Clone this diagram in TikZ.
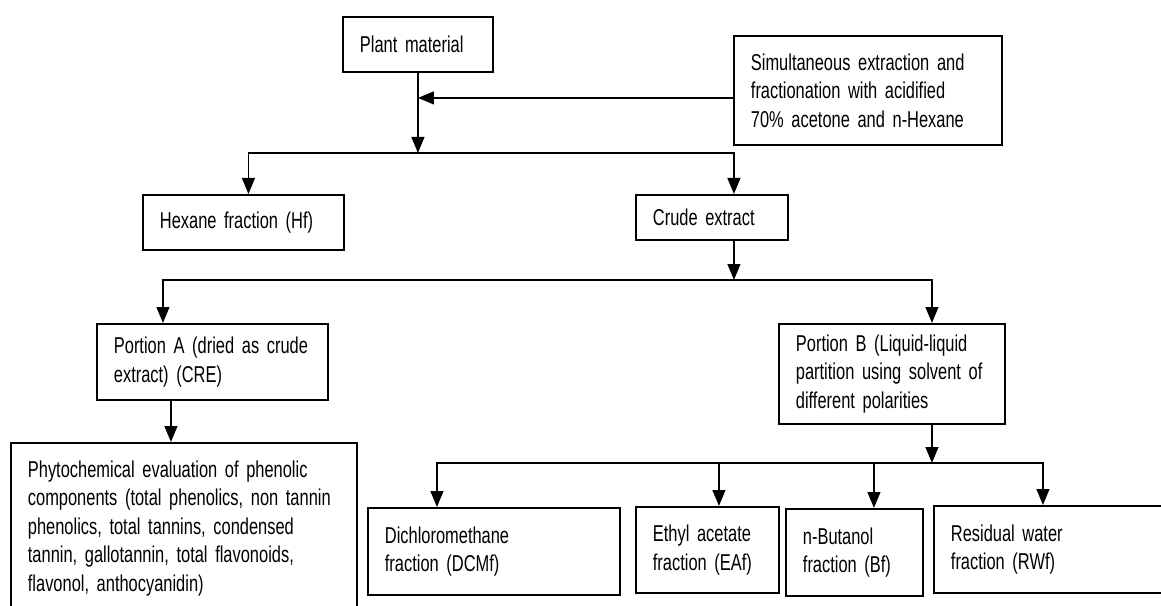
\documentclass[tikz,border=0pt]{standalone}
\usepackage{fontspec}
\setmainfont{Liberation Sans}[FakeStretch=0.717]
\usepackage{tikz}
\usetikzlibrary{arrows.meta, positioning, calc}

\begin{document}
\begin{tikzpicture}[
    x=0.025cm, y=-0.025cm,
    font=\fontsize{16.3pt}{20.2pt}\selectfont,
    box/.style={rectangle, draw=black, line width=1.3pt, anchor=north west,
      align=left, inner xsep=0.425cm, inner ysep=4pt},
    arrow/.style={-{Triangle[length=4mm, width=3.2mm]}, line width=1.3pt},
  ]
  \useasboundingbox (0,0) rectangle (1161,605);
  \clip (0,0) rectangle (1161,605);

  \node[box, text width=2.9cm,  minimum height=1.375cm] (plant)   at (342,16)  {Plant material};
  \node[box, text width=5.85cm, minimum height=2.725cm] (solvent) at (733,35)
    {Simultaneous extraction and\\fractionation with acidified\\70\% acetone and n-Hexane};

  \node[box, text width=4.175cm, minimum height=1.375cm] (hexane) at (142,194) {Hexane fraction (Hf)};
  \node[box, text width=2.95cm,  minimum height=1.125cm] (crude)  at (635,194) {Crude extract};

  \node[box, text width=4.925cm, minimum height=1.9cm] (porta) at (96,323)
    {Portion A (dried as crude\\extract) (CRE)};
  \node[box, text width=4.8cm, minimum height=2.5cm] (portb) at (778,323)
    {Portion B (Liquid-liquid\\partition using solvent of\\different polarities};

  \node[box, text width=7.8cm, inner ysep=12.8pt] (phyto) at (10,442)
    {Phytochemical evaluation of phenolic\\components (total phenolics, non tannin\\phenolics, total tannins, condensed\\tannin, gallotannin, total flavonoids,\\flavonol, anthocyanidin)\par\vspace*{1cm}};

  \node[box, text width=5.45cm,  minimum height=2.175cm] (dcm) at (367,507) {Dichloromethane\\fraction (DCMf)};
  \node[box, text width=2.725cm, minimum height=2.15cm]  (ea)  at (635,506) {Ethyl acetate\\fraction (EAf)};
  \node[box, text width=2.575cm, minimum height=2.175cm] (bu)  at (785,508) {n-Butanol\\fraction (Bf)};
  \node[box, text width=5.4cm,   minimum height=2.175cm] (rw)  at (933,505) {Residual water\\fraction (RWf)};

  \coordinate (split1) at (plant.south |- 0,153);
  \coordinate (ts) at ($(solvent.west)+(0,7.5)$);
  \draw[arrow] (ts) -- (ts -| plant.south);
  \draw[arrow] (plant.south) -- (split1);
  \draw[arrow] (split1) -| ($(hexane.north)+(5,0)$);
  \draw[arrow] (split1) -| ($(crude.north)+(22,0)$);

  \coordinate (tc) at ($(crude.south)+(22,0)$);
  \coordinate (split2) at (tc |- 0,280);
  \draw[arrow] (tc) -- (split2);
  \draw[arrow] (split2) -| ($(porta.north)+(-49.5,0)$);
  \draw[arrow] (split2) -| ($(portb.north)+(40,0)$);

  \coordinate (ta) at ($(porta.south)+(-41.5,0)$);
  \draw[arrow] (ta) -- (ta |- phyto.north);

  \coordinate (tb) at ($(portb.south)+(40,0)$);
  \coordinate (split3) at (tb |- 0,463);
  \draw[arrow] (tb) -- (split3);
  \draw[arrow] (split3) -| ($(dcm.north)+(-57,0)$);
  \draw[arrow] (split3) -| ($(ea.north)+(11.5,0)$);
  \draw[arrow] (split3) -| ($(bu.north)+(19.5,0)$);
  \draw[arrow] (split3) -| ($(rw.north)+(-16,0)$);
\end{tikzpicture}
\end{document}
